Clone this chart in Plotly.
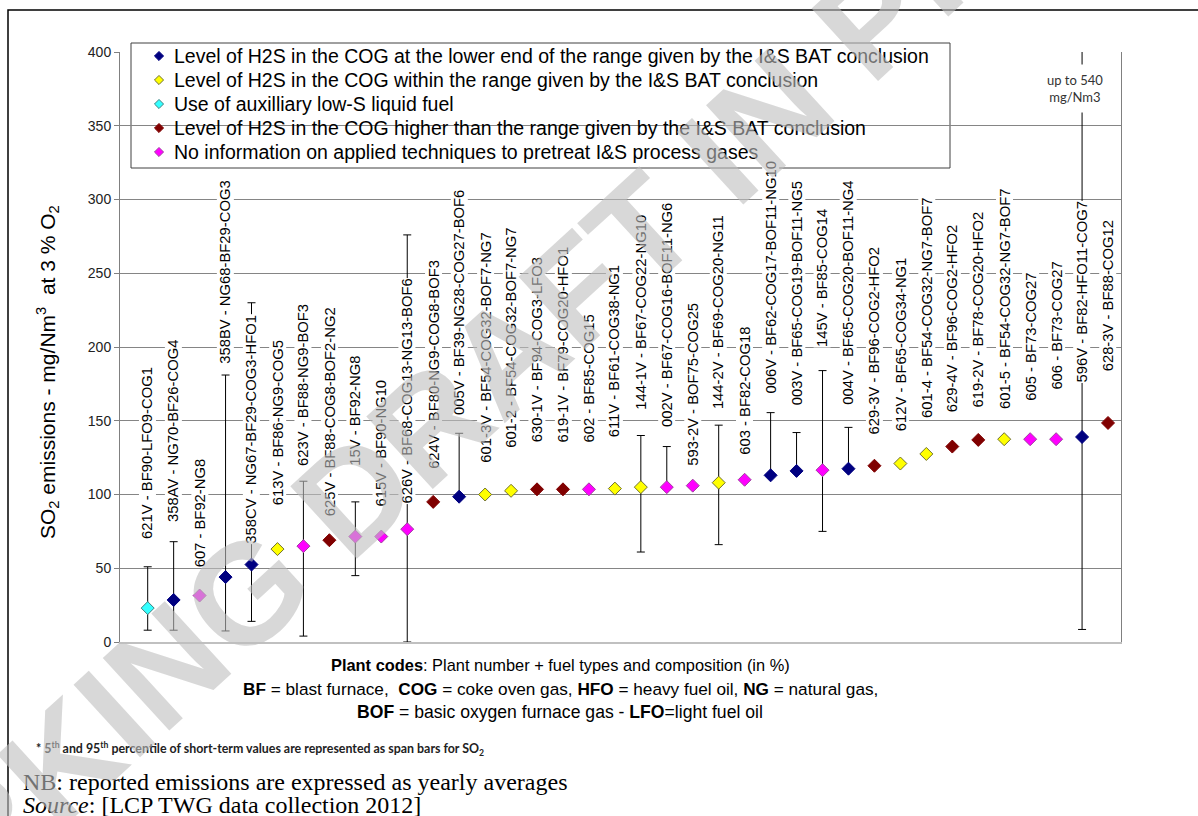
import plotly.graph_objects as go

# ---------------- data ----------------
plant_labels = [
    "621V - BF90-LFO9-COG1", "358AV - NG70-BF26-COG4", "607 - BF92-NG8",
    "358BV - NG68-BF29-COG3", "358CV - NG67-BF29-COG3-HFO1", "613V - BF86-NG9-COG5",
    "623V - BF88-NG9-BOF3", "625V - BF88-COG8-BOF2-NG2", "15V - BF92-NG8",
    "615V - BF90-NG10", "626V - BF68-COG13-NG13-BOF6", "624V - BF80-NG9-COG8-BOF3",
    "005V - BF39-NG28-COG27-BOF6", "601-3V - BF54-COG32-BOF7-NG7", "601-2 - BF54-COG32-BOF7-NG7",
    "630-1V - BF94-COG3-LFO3", "619-1V - BF79-COG20-HFO1", "602 - BF85-COG15",
    "611V - BF61-COG38-NG1", "144-1V - BF67-COG22-NG10", "002V - BF67-COG16-BOF11-NG6",
    "593-2V - BOF75-COG25", "144-2V - BF69-COG20-NG11", "603 - BF82-COG18",
    "006V - BF62-COG17-BOF11-NG10", "003V - BF65-COG19-BOF11-NG5", "145V - BF85-COG14",
    "004V - BF65-COG20-BOF11-NG4", "629-3V - BF96-COG2-HFO2", "612V - BF65-COG34-NG1",
    "601-4 - BF54-COG32-NG7-BOF7", "629-4V - BF96-COG2-HFO2", "619-2V - BF78-COG20-HFO2",
    "601-5 - BF54-COG32-NG7-BOF7", "605 - BF73-COG27", "606 - BF73-COG27",
    "596V - BF82-HFO11-COG7", "628-3V - BF88-COG12",
]
so2_avg = [23, 28.5, 31.5, 44, 52.5, 63, 65, 69, 71.5, 71.5, 76.5, 95,
           98.5, 100, 102.5, 103.5, 103.5, 103.5, 104, 105, 105, 106, 108, 110,
           113, 116, 116.5, 117.5, 119.5, 121, 127.5, 132.5, 137, 137.5, 137.5, 137.5,
           139, 148.5]
p95 = [51, 68, None, 181, 230, None, 109, None, 95, None, 276, None,
       141.5, None, None, None, None, None, None, 140, 132.5, None, 147, None,
       155.5, 142, 184, 145.5, None, None, None, None, None, None, None, None,
       540, None]
p5 = [8, 8, None, 7.5, 14, None, 4, None, 45, None, 0, None,
      None, None, None, None, None, None, None, 61, None, None, 66, None,
      None, None, 75, None, None, None, None, None, None, None, None, None,
      8.5, None]
group = ["aux", "low", "noinfo", "low", "low", "within", "noinfo", "high", "noinfo",
         "noinfo", "noinfo", "high", "low", "within", "within", "high", "high", "noinfo",
         "within", "within", "noinfo", "noinfo", "within", "noinfo", "low", "low", "noinfo",
         "low", "high", "within", "within", "high", "high", "within", "noinfo", "noinfo",
         "low", "high"]
# value at which each rotated plant label starts
label_start = [69, 80.5, 50, 188, 66, 92, 119, 84.5, 119, 91, 93, 116.5,
               153, 121, 131, 134.5, 134.5, 134.5, 138, 157, 145, 119, 157, 126,
               167.5, 159.5, 199, 160.5, 140, 142.5, 151.5, 155, 158.5, 157.5, 163, 170.5,
               175, 182.5]
legend_order = ["low", "within", "aux", "high", "noinfo"]
legend_names = {
    "low": "Level of H2S in the COG at the lower end of the range given by the I&S BAT conclusion",
    "within": "Level of H2S in the COG within the range given by the I&S BAT conclusion",
    "aux": "Use of auxilliary low-S liquid fuel",
    "high": "Level of H2S in the COG higher than the range given by the I&S BAT conclusion",
    "noinfo": "No information on applied techniques to pretreat I&S process gases",
}
colors = {"low": "#000080", "within": "#FFFF00", "aux": "#33FFFF",
          "high": "#800000", "noinfo": "#FF00FF"}
outline = {"low": "#000080", "within": "#707030", "aux": "#408080",
           "high": "#800000", "noinfo": "#A040A0"}
yticks = [0, 50, 100, 150, 200, 250, 300, 350, 400]

# ---------------- layout helpers (pixel -> paper) ----------------
PL, PR, PT, PB = 120, 1121, 52, 642
def pxx(p):
    return (p - PL) / (PR - PL)
def pxy(p):
    return (PB - p) / (PB - PT)

LEG_ROWS = [56, 80, 104, 128, 152]   # legend row centres (px)
LEG_MARK_X, LEG_TEXT_X = 159, 172

xs = list(range(1, len(plant_labels) + 1))
fig = go.Figure()

# span bars (5th / 95th percentile)
ex, ey, eplus, eminus = [], [], [], []
for i in range(len(xs)):
    if p95[i] is not None:
        ex.append(xs[i]); ey.append(so2_avg[i])
        eplus.append(p95[i] - so2_avg[i])
        eminus.append(so2_avg[i] - p5[i] if p5[i] is not None else 0)
fig.add_trace(go.Scatter(
    x=ex, y=ey, mode="markers", marker=dict(size=1, opacity=0),
    error_y=dict(type="data", symmetric=False, array=eplus, arrayminus=eminus,
                 color="#000000", thickness=1, width=4),
    showlegend=False, hoverinfo="skip"))

for g in legend_order:
    idx = [i for i in range(len(xs)) if group[i] == g]
    fig.add_trace(go.Scatter(
        x=[xs[i] for i in idx], y=[so2_avg[i] for i in idx], mode="markers",
        marker=dict(symbol="diamond", size=10, color=colors[g],
                    line=dict(color=outline[g], width=1)),
        showlegend=False, name=legend_names[g]))

# legend symbols on a pixel-scaled overlay axis
fig.add_trace(go.Scatter(
    x=[LEG_MARK_X] * len(legend_order), y=LEG_ROWS, xaxis="x2", yaxis="y2",
    mode="markers", showlegend=False, hoverinfo="skip", cliponaxis=False,
    marker=dict(symbol="diamond", size=7, color=[colors[g] for g in legend_order],
                line=dict(color=[outline[g] for g in legend_order], width=1))))

ann = []
for i in range(len(xs)):
    ann.append(dict(x=xs[i], y=label_start[i], xref="x", yref="y", text=plant_labels[i],
                    textangle=-90, xanchor="center", yanchor="bottom", showarrow=False,
                    bgcolor="white", borderpad=0,
                    font=dict(family="Arial", size=14.8, color="black")))

for g, ry in zip(legend_order, LEG_ROWS):
    ann.append(dict(x=pxx(LEG_TEXT_X), y=pxy(ry), xref="paper", yref="paper",
                    xanchor="left", yanchor="middle", text=legend_names[g], showarrow=False,
                    font=dict(family="Arial", size=19.5, color="black")))

ann.append(dict(x=xs[36], y=pxy(88), xref="x", yref="paper", xshift=-7, yanchor="middle",
                text="up to 540<br>mg/Nm3", showarrow=False, bgcolor="white", borderpad=7,
                font=dict(family="Lato", size=13, color="#333333"), align="center"))

ann.append(dict(x=pxx(47), y=pxy(372), xref="paper", yref="paper", textangle=-90,
                xanchor="center", yanchor="middle",
                text="SO<sub>2</sub> emissions - mg/Nm<sup>3</sup>  at 3 % O<sub>2</sub>",
                showarrow=False, font=dict(family="Arial", size=21, color="black")))

bottom_lines = [
    (665, 16.4, "<b>Plant codes</b>: Plant number + fuel types and composition (in %)"),
    (689, 17.2, "<b>BF</b> = blast furnace,  <b>COG</b> = coke oven gas, <b>HFO</b> = heavy fuel oil, <b>NG</b> = natural gas,"),
    (712, 17.6, "<b>BOF</b> = basic oxygen furnace gas - <b>LFO</b>=light fuel oil"),
]
for py, fs, t in bottom_lines:
    ann.append(dict(x=pxx(560), y=pxy(py), xref="paper", yref="paper", text=t,
                    showarrow=False, xanchor="center", yanchor="middle",
                    font=dict(family="Arial", size=fs, color="black")))

ann.append(dict(x=pxx(34), y=pxy(748), xref="paper", yref="paper", xanchor="left", yanchor="middle",
                text="<b>* 5<sup>th</sup> and 95<sup>th</sup> percentile of short-term values are represented as span bars for SO<sub>2</sub></b>",
                showarrow=False, font=dict(family="Lato", size=12.4, color="#222222")))
ann.append(dict(x=pxx(21), y=pxy(782), xref="paper", yref="paper", xanchor="left", yanchor="middle",
                text="NB: reported emissions are expressed as yearly averages",
                showarrow=False, font=dict(family="Liberation Serif", size=24, color="black")))
ann.append(dict(x=pxx(21), y=pxy(805), xref="paper", yref="paper", xanchor="left", yanchor="middle",
                text="<i>Source</i>: [LCP TWG data collection 2012]",
                showarrow=False, font=dict(family="Liberation Serif", size=24, color="black")))

# watermark
ann.append(dict(x=pxx(600), y=pxy(268), xref="paper", yref="paper", textangle=-42.5,
                text="<b>WORKING DRAFT IN PROGRESS</b>", showarrow=False,
                xanchor="center", yanchor="middle",
                font=dict(family="Arial", size=143, color="rgba(190,190,190,0.6)")))

shapes = [
    dict(type="rect", xref="paper", yref="paper", x0=pxx(8), y0=pxy(840), x1=pxx(1215), y1=pxy(10),
         line=dict(color="black", width=1.5), fillcolor="rgba(0,0,0,0)", layer="above"),
    dict(type="rect", xref="paper", yref="paper", x0=pxx(131), y0=pxy(168), x1=pxx(950), y1=pxy(43),
         line=dict(color="#404040", width=1), fillcolor="white", layer="between"),
]

fig.update_layout(
    width=1198, height=816,
    margin=dict(l=PL, r=1198 - PR, t=PT, b=816 - PB, pad=0),
    paper_bgcolor="white", plot_bgcolor="white",
    showlegend=False,
    xaxis=dict(range=[-0.067, 38.5], showticklabels=False, ticks="", showgrid=False,
               zeroline=False, showline=True, linecolor="#c0c0c0", linewidth=2, mirror=False),
    yaxis=dict(range=[0, 400], tickvals=yticks, ticks="outside", ticklen=5, tickcolor="#808080",
               showgrid=True, gridcolor="#858585", gridwidth=1, zeroline=False,
               showline=True, linecolor="#808080", linewidth=1, mirror=True,
               tickfont=dict(family="Arial", size=14, color="#222222")),
    xaxis2=dict(overlaying="x", anchor="y2", range=[PL, PR], visible=False),
    yaxis2=dict(overlaying="y", anchor="x2", range=[PB, PT], visible=False),
    annotations=ann, shapes=shapes,
)
fig.write_html("out.html", config={"displayModeBar": False},
               post_script="document.body.style.margin='0';document.body.style.overflow='hidden';")
